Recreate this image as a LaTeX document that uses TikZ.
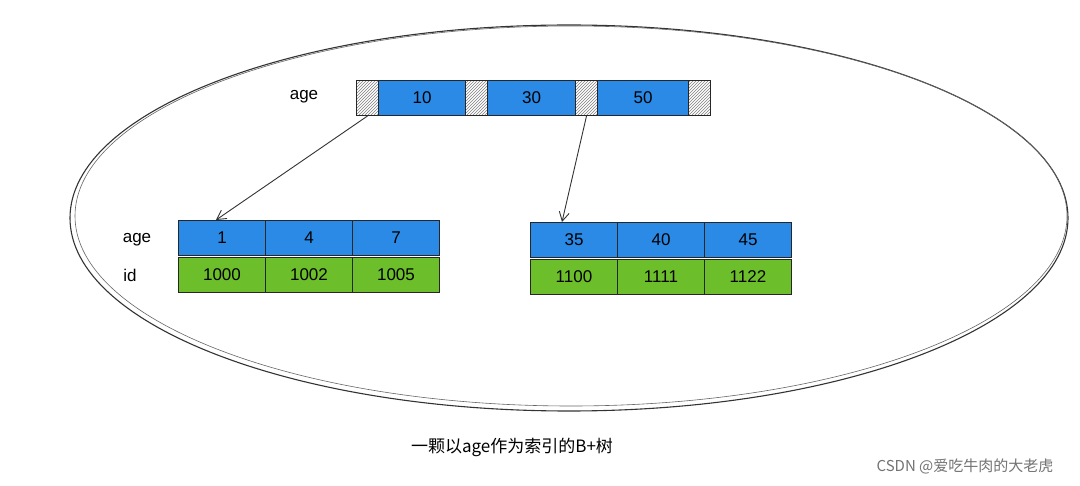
\documentclass[tikz,border=0pt]{standalone}
\usepackage{fontspec}
\setmainfont{Liberation Sans}
\newfontfamily\cjk{Noto Sans CJK SC}
\usetikzlibrary{patterns,arrows.meta}
\definecolor{bblue}{HTML}{2A8AE6}
\definecolor{lgreen}{HTML}{6CBF2A}
\tikzset{
 cell/.style={draw=black!85,line width=1pt,minimum height=35pt,inner sep=0pt,font=\fontsize{17}{17}\selectfont,anchor=north west},
 bc/.style={cell,fill=bblue,minimum width=87pt},
 gc/.style={cell,fill=lgreen,minimum width=87pt},
 hc/.style={cell,fill=white,pattern=north east lines,pattern color=gray,minimum width=22pt},
 lbl/.style={font=\fontsize{17}{17}\selectfont},
 arr/.style={draw=black!80,line width=0.9pt,-{Straight Barb[length=9pt,width=10pt]}}
}
\begin{document}
\begin{tikzpicture}[x=1pt,y=-1pt]
\useasboundingbox (0,0) rectangle (1080,486);
\fill[white] (0,0) rectangle (1080,486);
\draw[line width=1.1pt,black!80] (569,218) ellipse [x radius=499, y radius=193];
\draw[line width=0.6pt,black!60] (571,216) ellipse [x radius=496, y radius=190];
% top
\node[lbl] (ta) at (304,97) {age};
\node[hc] (h1) at (356,80) {};
\node[bc,minimum width=87pt] (t1) at (378,80) {10};
\node[hc] (h2) at (465,80) {};
\node[bc,minimum width=88pt] (t2) at (487,80) {30};
\node[hc] (h3) at (575,80) {};
\node[bc,minimum width=91pt] (t3) at (597,80) {50};
\node[hc] (h4) at (688,80) {};
% left leaf
\node[lbl] (la) at (137,240) {age};
\node[lbl] (li) at (130,275) {id};
\node[bc] (a1) at (178,220) {1};
\node[bc] (a2) at (265,220) {4};
\node[bc] (a3) at (352,220) {7};
\node[gc] (b1) at (178,257) {1000};
\node[gc] (b2) at (265,257) {1002};
\node[gc] (b3) at (352,257) {1005};
% right leaf
\node[bc] (c1) at (530,222) {35};
\node[bc] (c2) at (617,222) {40};
\node[bc] (c3) at (704,222) {45};
\node[gc] (d1) at (530,259) {1100};
\node[gc] (d2) at (617,259) {1111};
\node[gc] (d3) at (704,259) {1122};
\draw[arr] (h1.south) -- ([xshift=-6pt]a1.north);
\draw[arr] (h3.south) -- ([xshift=-12pt]c1.north);
\node[font=\cjk\fontsize{17}{17}\selectfont] (cap) at (512,447) {一颗以age作为索引的B+树};
\node[font=\cjk\fontsize{15}{15}\selectfont,text=black!55] (wm) at (965,466) {CSDN @爱吃牛肉的大老虎};
\end{tikzpicture}
\end{document}
